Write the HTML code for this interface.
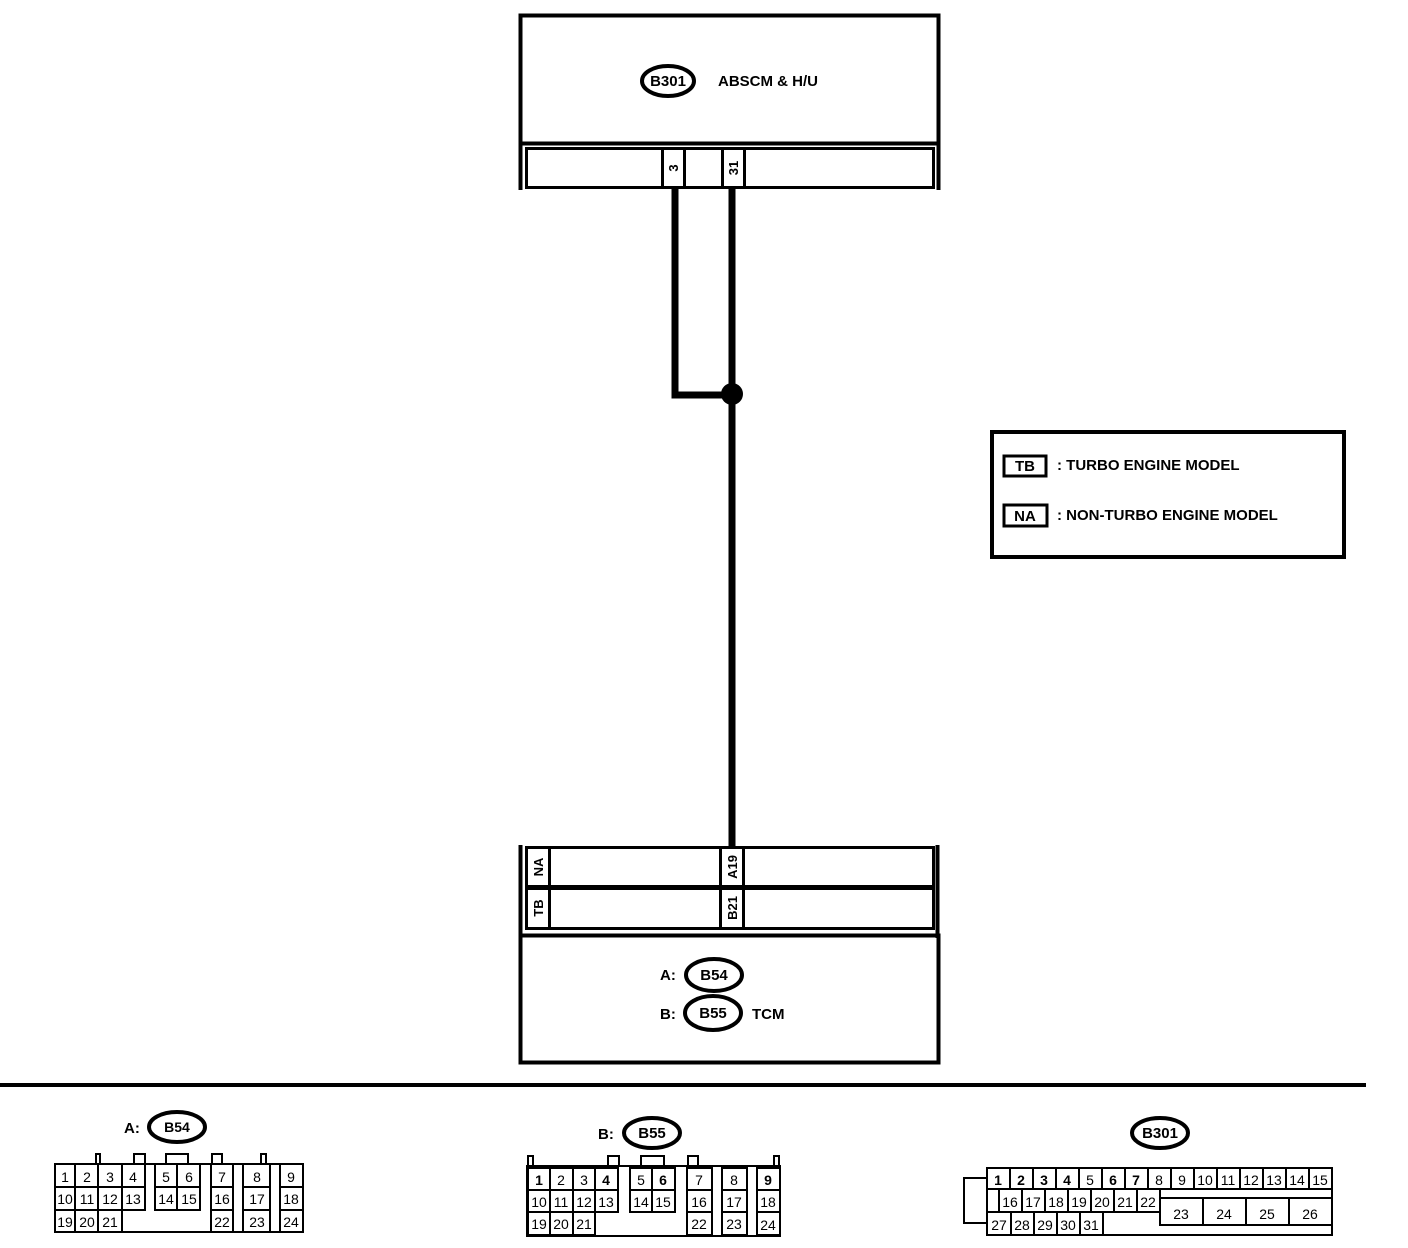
<!DOCTYPE html>
<html><head><meta charset="utf-8"><style>
html,body{margin:0;padding:0;background:#fff;}
svg{display:block;font-family:"Liberation Sans",Arial,sans-serif;}
.b{font-weight:bold;}
</style></head><body>
<svg width="1408" height="1248" viewBox="0 0 1408 1248" xmlns="http://www.w3.org/2000/svg">
<rect width="1408" height="1248" fill="#fff"/>
<g fill="none" stroke="#000">
<rect x="520.5" y="15.5" width="418" height="128" stroke-width="4"/>
<line x1="520.5" y1="140" x2="520.5" y2="190" stroke-width="4"/>
<line x1="938.5" y1="140" x2="938.5" y2="190" stroke-width="4"/>
<rect x="526.5" y="148.5" width="407" height="39" stroke-width="3"/>
<rect x="662.5" y="148.5" width="22" height="39" stroke-width="3"/>
<rect x="722.5" y="148.5" width="22" height="39" stroke-width="3"/>
<ellipse cx="668" cy="81" rx="26" ry="15" stroke-width="4"/>
<polyline points="675,188 675,395 732,395" stroke-width="7"/>
<line x1="732" y1="188" x2="732" y2="848" stroke-width="7"/>
<rect x="520.5" y="935.5" width="418" height="127" stroke-width="4"/>
<line x1="520.5" y1="845" x2="520.5" y2="938" stroke-width="4"/>
<line x1="937.5" y1="845" x2="937.5" y2="938" stroke-width="4"/>
<rect x="526.5" y="847.5" width="407" height="39" stroke-width="3"/>
<rect x="526.5" y="888.5" width="407" height="40" stroke-width="3"/>
<rect x="526.5" y="847.5" width="23" height="39" stroke-width="3"/>
<rect x="526.5" y="888.5" width="23" height="40" stroke-width="3"/>
<rect x="720.5" y="847.5" width="23" height="39" stroke-width="3"/>
<rect x="720.5" y="888.5" width="23" height="40" stroke-width="3"/>
<ellipse cx="714" cy="975" rx="28" ry="16" stroke-width="4"/>
<ellipse cx="713" cy="1013" rx="28" ry="17" stroke-width="4"/>
<rect x="992" y="432" width="352" height="125" stroke-width="4"/>
<rect x="1004" y="456" width="42" height="20" stroke-width="3"/>
<rect x="1004" y="505" width="43" height="21" stroke-width="3"/>
<line x1="0" y1="1085" x2="1366" y2="1085" stroke-width="4"/>
<ellipse cx="177" cy="1127" rx="28" ry="15" stroke-width="4"/>
<ellipse cx="652" cy="1133" rx="28" ry="15" stroke-width="4"/>
<ellipse cx="1160" cy="1133" rx="28" ry="15" stroke-width="4"/>
</g>
<circle cx="732" cy="394" r="11" fill="#000"/>

<g class="b" font-size="15" text-anchor="middle">
<text x="668" y="86">B301</text>
<text x="714" y="980">B54</text>
<text x="713" y="1018">B55</text>
</g>
<g class="b" font-size="15">
<text x="718" y="86">ABSCM &amp; H/U</text>
<text x="660" y="980">A:</text>
<text x="660" y="1019">B:</text>
<text x="752" y="1019">TCM</text>
<text x="1025" y="471" text-anchor="middle">TB</text>
<text x="1025" y="521" text-anchor="middle">NA</text>
<text x="1057" y="470">: TURBO ENGINE MODEL</text>
<text x="1057" y="520">: NON-TURBO ENGINE MODEL</text>
<text x="124" y="1133">A:</text>
<text x="598" y="1139">B:</text>
</g>
<g class="b" font-size="13" text-anchor="middle">
<text transform="translate(678,168) rotate(-90)">3</text>
<text transform="translate(738,168) rotate(-90)">31</text>
<text transform="translate(543,867) rotate(-90)">NA</text>
<text transform="translate(543,908) rotate(-90)">TB</text>
<text transform="translate(737,867) rotate(-90)">A19</text>
<text transform="translate(737,908) rotate(-90)">B21</text>
</g>

<g fill="#fff" stroke="#000" stroke-width="2">
<rect x="96" y="1154" width="4" height="10"/><rect x="134" y="1154" width="11" height="10"/><rect x="166" y="1154" width="22" height="10"/><rect x="212" y="1154" width="10" height="10"/><rect x="261" y="1154" width="5" height="10"/>
<rect x="55" y="1164" width="248" height="68"/>
<rect x="55" y="1164" width="20" height="23"/><rect x="75" y="1164" width="23" height="23"/><rect x="98" y="1164" width="24" height="23"/><rect x="122" y="1164" width="23" height="23"/>
<rect x="155" y="1164" width="22" height="23"/><rect x="177" y="1164" width="23" height="23"/><rect x="211" y="1164" width="22" height="23"/><rect x="243" y="1164" width="27" height="23"/><rect x="280" y="1164" width="23" height="23"/>
<rect x="55" y="1187" width="20" height="23"/><rect x="75" y="1187" width="23" height="23"/><rect x="98" y="1187" width="24" height="23"/><rect x="122" y="1187" width="23" height="23"/>
<rect x="155" y="1187" width="22" height="23"/><rect x="177" y="1187" width="23" height="23"/><rect x="211" y="1187" width="22" height="23"/><rect x="243" y="1187" width="27" height="23"/><rect x="280" y="1187" width="23" height="23"/>
<rect x="55" y="1210" width="20" height="22"/><rect x="75" y="1210" width="23" height="22"/><rect x="98" y="1210" width="24" height="22"/>
<rect x="211" y="1210" width="22" height="22"/><rect x="243" y="1210" width="27" height="22"/><rect x="280" y="1210" width="23" height="22"/>
</g>
<g font-size="14" text-anchor="middle">
<text x="65" y="1182">1</text><text x="87" y="1182">2</text><text x="110" y="1182">3</text><text x="133" y="1182">4</text><text x="166" y="1182">5</text><text x="189" y="1182">6</text><text x="222" y="1182">7</text><text x="257" y="1182">8</text><text x="291" y="1182">9</text>
<text x="65" y="1204">10</text><text x="87" y="1204">11</text><text x="110" y="1204">12</text><text x="133" y="1204">13</text><text x="166" y="1204">14</text><text x="189" y="1204">15</text><text x="222" y="1204">16</text><text x="257" y="1204">17</text><text x="291" y="1204">18</text>
<text x="65" y="1227">19</text><text x="87" y="1227">20</text><text x="110" y="1227">21</text><text x="222" y="1227">22</text><text x="257" y="1227">23</text><text x="291" y="1227">24</text>
</g>

<g fill="#fff" stroke="#000" stroke-width="2">
<rect x="528" y="1156" width="5" height="10"/><rect x="608" y="1156" width="11" height="10"/><rect x="641" y="1156" width="23" height="10"/><rect x="688" y="1156" width="10" height="10"/><rect x="774" y="1156" width="5" height="10"/>
<rect x="527" y="1166" width="253" height="70"/>
<rect x="528" y="1168" width="22" height="22"/><rect x="550" y="1168" width="23" height="22"/><rect x="573" y="1168" width="22" height="22"/><rect x="595" y="1168" width="23" height="22"/>
<rect x="630" y="1168" width="22" height="22"/><rect x="652" y="1168" width="23" height="22"/><rect x="687" y="1168" width="25" height="22"/><rect x="722" y="1168" width="25" height="22"/><rect x="757" y="1168" width="23" height="22"/>
<rect x="528" y="1190" width="22" height="22"/><rect x="550" y="1190" width="23" height="22"/><rect x="573" y="1190" width="22" height="22"/><rect x="595" y="1190" width="23" height="22"/>
<rect x="630" y="1190" width="22" height="22"/><rect x="652" y="1190" width="23" height="22"/><rect x="687" y="1190" width="25" height="22"/><rect x="722" y="1190" width="25" height="22"/><rect x="757" y="1190" width="23" height="22"/>
<rect x="528" y="1212" width="22" height="23"/><rect x="550" y="1212" width="23" height="23"/><rect x="573" y="1212" width="22" height="23"/>
<rect x="687" y="1212" width="25" height="23"/><rect x="722" y="1212" width="25" height="23"/><rect x="757" y="1212" width="23" height="23"/>
</g>
<g font-size="14" text-anchor="middle">
<text x="539" y="1185" class="b">1</text><text x="561" y="1185">2</text><text x="584" y="1185">3</text><text x="606" y="1185" class="b">4</text><text x="641" y="1185">5</text><text x="663" y="1185" class="b">6</text><text x="699" y="1185">7</text><text x="734" y="1185">8</text><text x="768" y="1185" class="b">9</text>
<text x="539" y="1207">10</text><text x="561" y="1207">11</text><text x="584" y="1207">12</text><text x="606" y="1207">13</text><text x="641" y="1207">14</text><text x="663" y="1207">15</text><text x="699" y="1207">16</text><text x="734" y="1207">17</text><text x="768" y="1207">18</text>
<text x="539" y="1229">19</text><text x="561" y="1229">20</text><text x="584" y="1229">21</text><text x="699" y="1229">22</text><text x="734" y="1229">23</text><text x="768" y="1230">24</text>
</g>

<g fill="#fff" stroke="#000" stroke-width="2">
<rect x="964" y="1178" width="24" height="45"/>
<rect x="987" y="1168" width="345" height="67"/>
<rect x="987" y="1168" width="23" height="21"/><rect x="1010" y="1168" width="23" height="21"/><rect x="1033" y="1168" width="23" height="21"/><rect x="1056" y="1168" width="23" height="21"/><rect x="1079" y="1168" width="23" height="21"/><rect x="1102" y="1168" width="23" height="21"/><rect x="1125" y="1168" width="23" height="21"/><rect x="1148" y="1168" width="23" height="21"/><rect x="1171" y="1168" width="23" height="21"/><rect x="1194" y="1168" width="23" height="21"/><rect x="1217" y="1168" width="23" height="21"/><rect x="1240" y="1168" width="23" height="21"/><rect x="1263" y="1168" width="23" height="21"/><rect x="1286" y="1168" width="23" height="21"/><rect x="1309" y="1168" width="23" height="21"/>
<rect x="987" y="1189" width="345" height="23"/>
<rect x="999" y="1189" width="23" height="23"/><rect x="1022" y="1189" width="23" height="23"/><rect x="1045" y="1189" width="23" height="23"/><rect x="1068" y="1189" width="23" height="23"/><rect x="1091" y="1189" width="23" height="23"/><rect x="1114" y="1189" width="23" height="23"/><rect x="1137" y="1189" width="23" height="23"/>
<rect x="1160" y="1198" width="43" height="27"/><rect x="1203" y="1198" width="43" height="27"/><rect x="1246" y="1198" width="43" height="27"/><rect x="1289" y="1198" width="43" height="27"/>
<rect x="987" y="1212" width="24" height="23"/><rect x="1011" y="1212" width="23" height="23"/><rect x="1034" y="1212" width="23" height="23"/><rect x="1057" y="1212" width="23" height="23"/><rect x="1080" y="1212" width="23" height="23"/>
</g>
<g font-size="14" text-anchor="middle">
<text x="998" y="1185" class="b">1</text><text x="1021" y="1185" class="b">2</text><text x="1044" y="1185" class="b">3</text><text x="1067" y="1185" class="b">4</text><text x="1090" y="1185">5</text><text x="1113" y="1185" class="b">6</text><text x="1136" y="1185" class="b">7</text><text x="1159" y="1185">8</text><text x="1182" y="1185">9</text><text x="1205" y="1185">10</text><text x="1228" y="1185">11</text><text x="1251" y="1185">12</text><text x="1274" y="1185">13</text><text x="1297" y="1185">14</text><text x="1320" y="1185">15</text>
<text x="1010" y="1207">16</text><text x="1033" y="1207">17</text><text x="1056" y="1207">18</text><text x="1079" y="1207">19</text><text x="1102" y="1207">20</text><text x="1125" y="1207">21</text><text x="1148" y="1207">22</text>
<text x="1181" y="1219">23</text><text x="1224" y="1219">24</text><text x="1267" y="1219">25</text><text x="1310" y="1219">26</text>
<text x="999" y="1230">27</text><text x="1022" y="1230">28</text><text x="1045" y="1230">29</text><text x="1068" y="1230">30</text><text x="1091" y="1230">31</text>
</g>
<text x="177" y="1132" class="b" font-size="14" text-anchor="middle">B54</text>
<text x="652" y="1138" class="b" font-size="15" text-anchor="middle">B55</text>
<text x="1160" y="1138" class="b" font-size="15" text-anchor="middle">B301</text>
</svg>
</body></html>
